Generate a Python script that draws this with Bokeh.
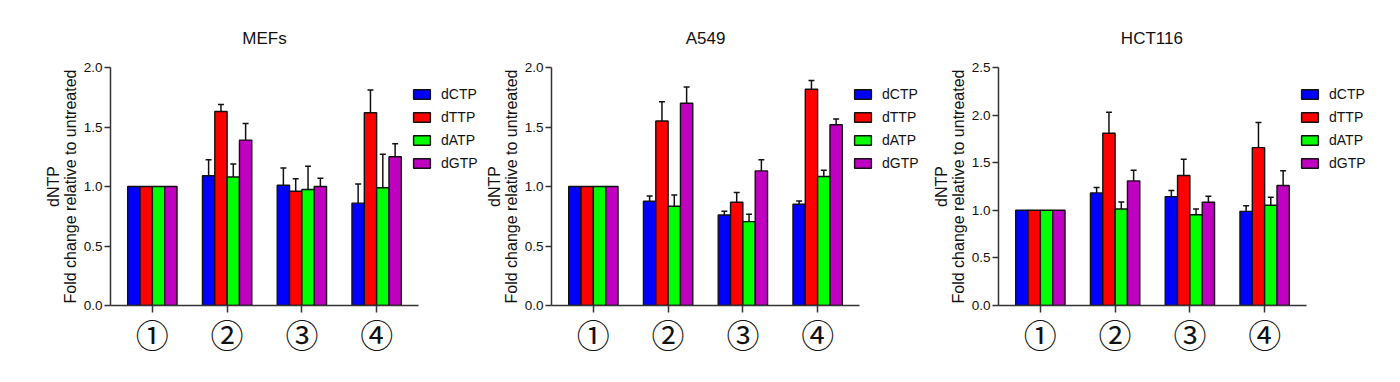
from bokeh.plotting import figure
from bokeh.layouts import row
from bokeh.models import Range1d, FixedTicker, Legend, LegendItem, ColumnDataSource, PrintfTickFormatter, Title
from bokeh.embed import file_html
from bokeh.resources import INLINE

# ---------------- data ----------------
groups = [1, 2, 3, 4]
group_labels = ["①", "②", "③", "④"]
series = ["dCTP", "dTTP", "dATP", "dGTP"]
colors = ["#0000FF", "#FF0000", "#00FF00", "#C000C0"]

# MEFs (mean, upper error)
mefs_dCTP = [1.0, 1.09, 1.01, 0.86]
mefs_dTTP = [1.0, 1.63, 0.96, 1.62]
mefs_dATP = [1.0, 1.08, 0.975, 0.99]
mefs_dGTP = [1.0, 1.39, 1.0, 1.25]
mefs_dCTP_err = [0.0, 0.135, 0.145, 0.16]
mefs_dTTP_err = [0.0, 0.06, 0.105, 0.19]
mefs_dATP_err = [0.0, 0.11, 0.195, 0.28]
mefs_dGTP_err = [0.0, 0.14, 0.07, 0.11]

# A549
a549_dCTP = [1.0, 0.876, 0.761, 0.851]
a549_dTTP = [1.0, 1.55, 0.868, 1.817]
a549_dATP = [1.0, 0.834, 0.705, 1.084]
a549_dGTP = [1.0, 1.699, 1.131, 1.519]
a549_dCTP_err = [0.0, 0.045, 0.03, 0.028]
a549_dTTP_err = [0.0, 0.163, 0.081, 0.073]
a549_dATP_err = [0.0, 0.095, 0.062, 0.053]
a549_dGTP_err = [0.0, 0.138, 0.093, 0.048]

# HCT116
hct_dCTP = [1.0, 1.183, 1.144, 0.989]
hct_dTTP = [1.0, 1.809, 1.365, 1.658]
hct_dATP = [1.0, 1.014, 0.954, 1.053]
hct_dGTP = [1.0, 1.309, 1.084, 1.26]
hct_dCTP_err = [0.0, 0.056, 0.063, 0.06]
hct_dTTP_err = [0.0, 0.222, 0.17, 0.264]
hct_dATP_err = [0.0, 0.074, 0.06, 0.084]
hct_dGTP_err = [0.0, 0.113, 0.064, 0.155]

y_ticks_2 = [0.0, 0.5, 1.0, 1.5, 2.0]
y_ticks_25 = [0.0, 0.5, 1.0, 1.5, 2.0, 2.5]

FONT = "Liberation Sans"
BAR_W = 0.165
CAP_W = 0.08
AXIS_COLOR = "#333333"
TXT = "#111111"
X_LO, X_HI = 0.44, 4.56
AXIS_PX = 308
TITLE_PX = 17

# Arial/Liberation Sans advance widths (em) for centering the titles over the axis
_ARIAL = {"M": .833, "E": .667, "F": .611, "s": .5, "A": .667, "H": .722,
          "C": .722, "T": .611}


def text_width(t, size):
    return sum(_ARIAL.get(ch, .556) for ch in t) * size


def make_panel(title, means, errs, ymax, yticks, width, bl, height=372, bt=67, bb=67):
    br = 0
    frame_w = width - bl - br
    frame_h = height - bt - bb
    px_per_unit = AXIS_PX / (X_HI - X_LO)
    x_end = X_LO + frame_w / px_per_unit
    p = figure(width=width, height=height, output_backend="svg", toolbar_location=None,
               x_range=Range1d(X_LO, x_end), y_range=Range1d(0, ymax),
               min_border_left=bl, min_border_right=br, min_border_top=bt, min_border_bottom=bb,
               title=title)
    p.title.align = "left"
    p.title.offset = AXIS_PX / 2 - text_width(title, TITLE_PX) / 2
    p.title.text_font = FONT
    p.title.text_font_size = f"{TITLE_PX}px"
    p.title.text_font_style = "normal"
    p.title.text_color = TXT
    p.title.standoff = 40
    p.outline_line_color = None
    p.xgrid.visible = False
    p.ygrid.visible = False
    p.background_fill_color = "white"
    p.border_fill_color = "white"

    items = []
    for i, (name, col) in enumerate(zip(series, colors)):
        xs = [g + (i - 1.5) * BAR_W for g in groups]
        src = ColumnDataSource(dict(x=xs, top=means[i]))
        r = p.vbar(x="x", top="top", width=BAR_W, source=src, fill_color=col,
                   line_color=TXT, line_width=1.4)
        items.append(LegendItem(label=name, renderers=[r]))
        ex = [x for x, e in zip(xs, errs[i]) if e > 0]
        ey0 = [m for m, e in zip(means[i], errs[i]) if e > 0]
        ey1 = [m + e for m, e in zip(means[i], errs[i]) if e > 0]
        p.segment(x0=ex, x1=ex, y0=ey0, y1=ey1, line_color=TXT, line_width=1.5)
        p.segment(x0=[x - CAP_W / 2 for x in ex], x1=[x + CAP_W / 2 for x in ex],
                  y0=ey1, y1=ey1, line_color=TXT, line_width=1.5)

    leg_h = 4 * 22 + 3 * 1
    legend = Legend(items=items, location=(AXIS_PX - 7, frame_h - 16 - leg_h),
                    glyph_width=21, glyph_height=12, label_height=22, spacing=1,
                    padding=0, margin=0, label_standoff=9,
                    border_line_color=None, background_fill_alpha=0,
                    label_text_font=FONT, label_text_font_size="14px",
                    label_text_color=TXT)
    p.add_layout(legend)

    # x axis
    xa = p.xaxis[0]
    xa.bounds = (X_LO, X_HI)
    xa.ticker = FixedTicker(ticks=groups)
    xa.major_label_overrides = {g: lab for g, lab in zip(groups, group_labels)}
    xa.major_label_text_font = "Noto Sans CJK SC"
    xa.major_label_text_font_size = "33px"
    xa.major_label_text_color = TXT
    xa.major_label_standoff = -3
    xa.major_tick_out = 7
    xa.major_tick_in = 0
    xa.minor_tick_out = 0
    xa.minor_tick_in = 0
    xa.axis_line_color = AXIS_COLOR
    xa.axis_line_width = 1.5
    xa.major_tick_line_color = AXIS_COLOR
    xa.major_tick_line_width = 1.5

    # y axis
    ya = p.yaxis[0]
    ya.ticker = FixedTicker(ticks=yticks)
    ya.formatter = PrintfTickFormatter(format="%.1f")
    ya.major_label_text_font = FONT
    ya.major_label_text_font_size = "13.5px"
    ya.major_label_text_color = TXT
    ya.major_label_standoff = 2
    ya.major_tick_out = 6
    ya.major_tick_in = 0
    ya.minor_tick_out = 0
    ya.minor_tick_in = 0
    ya.axis_line_color = AXIS_COLOR
    ya.axis_line_width = 1.5
    ya.major_tick_line_color = AXIS_COLOR
    ya.major_tick_line_width = 1.5
    ya.axis_label = "Fold change relative to untreated"
    ya.axis_label_text_font = FONT
    ya.axis_label_text_font_size = "16px"
    ya.axis_label_text_font_style = "normal"
    ya.axis_label_text_color = TXT
    ya.axis_label_standoff = 2

    t2 = Title(text="dNTP", align="center", text_font=FONT, text_font_size="16px",
               text_font_style="normal", text_color=TXT, standoff=-6, offset=0)
    p.add_layout(t2, "left")
    return p


p1 = make_panel("MEFs",
                [mefs_dCTP, mefs_dTTP, mefs_dATP, mefs_dGTP],
                [mefs_dCTP_err, mefs_dTTP_err, mefs_dATP_err, mefs_dGTP_err],
                2.0, y_ticks_2, 482, 110)
p2 = make_panel("A549",
                [a549_dCTP, a549_dTTP, a549_dATP, a549_dGTP],
                [a549_dCTP_err, a549_dTTP_err, a549_dATP_err, a549_dGTP_err],
                2.0, y_ticks_2, 445, 69)
p3 = make_panel("HCT116",
                [hct_dCTP, hct_dTTP, hct_dATP, hct_dGTP],
                [hct_dCTP_err, hct_dTTP_err, hct_dATP_err, hct_dGTP_err],
                2.5, y_ticks_25, 465, 71)

layout = row(p1, p2, p3, spacing=0)
open("out.html", "w").write(file_html(layout, INLINE))
